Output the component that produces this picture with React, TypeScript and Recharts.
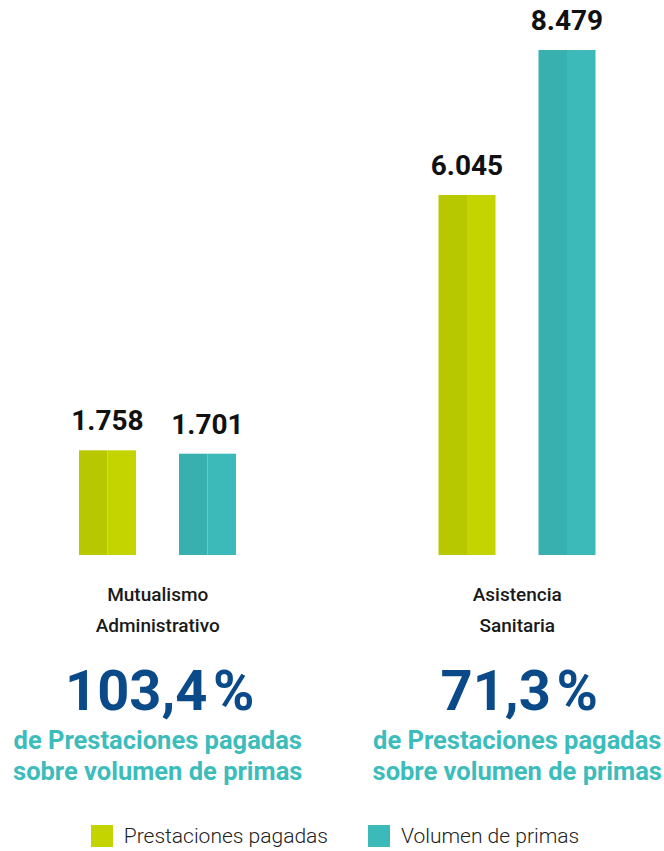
import React from "react";
import { BarChart, Bar, XAxis, YAxis, Legend, LabelList } from "recharts";

const categories = ["Mutualismo Administrativo", "Asistencia Sanitaria"];
const categoryLines = [
  ["Mutualismo", "Administrativo"],
  ["Asistencia", "Sanitaria"],
];
const prestaciones = [1758, 6045];
const volumen = [1701, 8479];
const ratioLabels = ["103,4", "71,3"];
const subtitleLines = ["de Prestaciones pagadas", "sobre volumen de primas"];
const seriesNames = ["Prestaciones pagadas", "Volumen de primas"];

const GREEN = "#c4d400";
const GREEN_DARK = "#b8c800";
const TEAL = "#3cb9b9";
const TEAL_DARK = "#38b0b0";
const BLUE = "#0a4a88";
const SUB = "#3dbcbc";
const FONT = "Roboto, 'Noto Sans', sans-serif";

const data = categories.map((c, i) => ({
  name: c,
  prestaciones: prestaciones[i],
  volumen: volumen[i],
}));

const fmt = (n: number) => String(n).replace(/\B(?=(\d{3})+(?!\d))/g, ".");

const makeShape = (light: string, dark: string) => (props: any) => {
  const { x, y, width, height } = props;
  const half = width / 2;
  return (
    <g>
      <rect x={x} y={y} width={half} height={height} fill={dark} />
      <rect x={x + half} y={y} width={width - half} height={height} fill={light} />
    </g>
  );
};

const ValueLabel = (props: any) => {
  const { x, y, width, value } = props;
  return (
    <text
      x={x + width / 2}
      y={y - 20}
      textAnchor="middle"
      fontFamily={FONT}
      fontWeight={700}
      fontSize={28}
      fill="#111"
    >
      {fmt(value)}
    </text>
  );
};

const CategoryTick = (props: any) => {
  const { x, y, payload } = props;
  const i = payload.index;
  const lines = categoryLines[i];
  return (
    <g>
      <text x={x} y={y + 46} textAnchor="middle" fontFamily={FONT} fontWeight={500} fontSize={19} fill="#1a1a1a">
        {lines[0]}
      </text>
      <text x={x} y={y + 77} textAnchor="middle" fontFamily={FONT} fontWeight={500} fontSize={19} fill="#1a1a1a">
        {lines[1]}
      </text>
      <text x={x + 2} y={y + 155} textAnchor="middle" fontFamily={FONT} fontWeight={700} fontSize={56} fill={BLUE}>
        {ratioLabels[i] + "\u200a%"}
      </text>
      <text x={x} y={y + 194} textAnchor="middle" fontFamily={FONT} fontWeight={700} fontSize={25.5} fill={SUB}>
        {subtitleLines[0]}
      </text>
      <text x={x} y={y + 225} textAnchor="middle" fontFamily={FONT} fontWeight={700} fontSize={25.5} fill={SUB}>
        {subtitleLines[1]}
      </text>
    </g>
  );
};

const LegendContent = (props: any) => {
  const items = props.payload || [];
  return (
    <div
      style={{
        height: 40,
        boxSizing: "border-box",
        paddingTop: 14,
        paddingLeft: 6,
        display: "flex",
        justifyContent: "center",
        alignItems: "flex-start",
        gap: 40,
        fontFamily: FONT,
      }}
    >
      {items.map((it: any, k: number) => (
        <div key={k} style={{ display: "flex", alignItems: "center", height: 22 }}>
          <div style={{ width: 22, height: 22, background: it.color, marginRight: 11 }} />
          <span style={{ fontSize: 21, fontWeight: 300, color: "#222", lineHeight: "22px" }}>{it.value}</span>
        </div>
      ))}
    </div>
  );
};

export default function App() {
  return (
    <div
      style={{
        position: "fixed",
        left: 0,
        top: 0,
        width: 664,
        height: 851,
        overflow: "hidden",
        background: "#ffffff",
      }}
    >
      <div style={{ position: "absolute", left: -32, top: 0 }}>
        <BarChart
          width={729}
          height={851}
          data={data}
          margin={{ top: 19, right: 0, left: 10, bottom: 0 }}
          barSize={57}
          barGap={43}
        >
          <XAxis
            dataKey="name"
            axisLine={false}
            tickLine={false}
            tickSize={0}
            tickMargin={0}
            height={256}
            interval={0}
            tick={<CategoryTick />}
          />
          <YAxis hide domain={[0, 9000]} />
          <Legend
            verticalAlign="bottom"
            wrapperStyle={{ left: 32, width: 664, height: 40 }}
            content={<LegendContent />}
          />
          <Bar
            dataKey="prestaciones"
            name={seriesNames[0]}
            fill={GREEN}
            isAnimationActive={false}
            shape={makeShape(GREEN, GREEN_DARK)}
          >
            <LabelList dataKey="prestaciones" content={<ValueLabel />} />
          </Bar>
          <Bar
            dataKey="volumen"
            name={seriesNames[1]}
            fill={TEAL}
            isAnimationActive={false}
            shape={makeShape(TEAL, TEAL_DARK)}
          >
            <LabelList dataKey="volumen" content={<ValueLabel />} />
          </Bar>
        </BarChart>
      </div>
    </div>
  );
}
